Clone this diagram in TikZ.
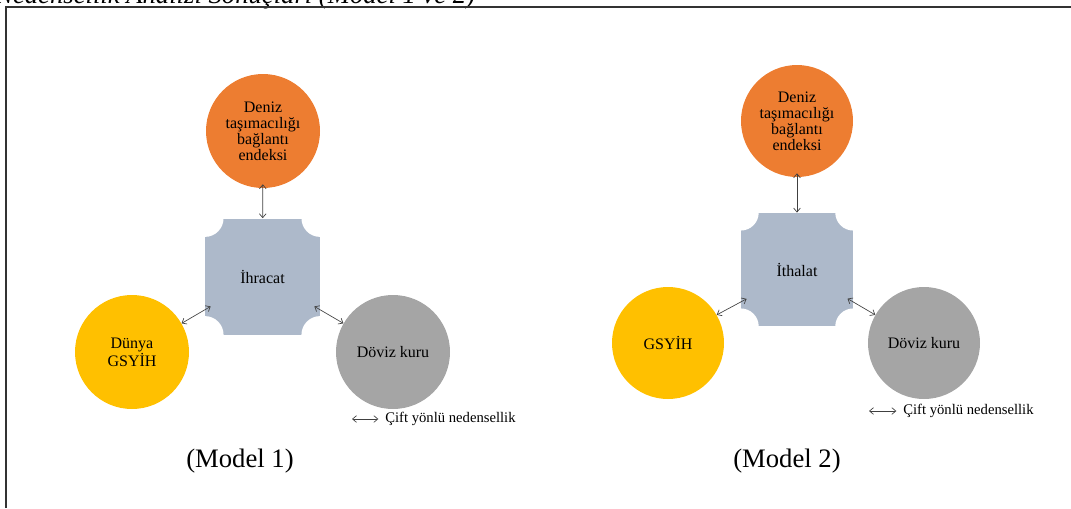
\documentclass[tikz,border=0pt]{standalone}
\usepackage{fontspec}
\setmainfont{Liberation Serif}
\usepackage{xcolor}
\usetikzlibrary{positioning, arrows.meta}
\definecolor{sea-orange}{HTML}{ED7D31}
\definecolor{gdp-yellow}{HTML}{FFC000}
\definecolor{fx-gray}{HTML}{A5A5A5}
\definecolor{box-blue}{HTML}{ADB9CA}
\tikzset{
    factor-circle/.style = {circle, minimum size=85.5pt, inner sep=0pt, align=center, font=\fontsize{12}{12}\selectfont},
    trade-box/.style = {rectangle, fill=box-blue, minimum width=86pt, minimum height=87pt, inner sep=0pt, font=\fontsize{12}{12}\selectfont},
    both-way/.style = {{Straight Barb[length=3pt,width=5pt]}-{Straight Barb[length=3pt,width=5pt]}, draw=black!75, line width=0.5pt},
    legend-text/.style = {anchor=west, inner sep=0pt, font=\fontsize{11}{11}\selectfont},
    model-label/.style = {inner sep=0pt, font=\fontsize{20}{24}\selectfont},
}

\begin{document}
\begin{tikzpicture}[x=0.75pt, y=-0.75pt]
\clip (0,0) rectangle (1071,508);
\node[anchor=base west, inner sep=0pt, font=\fontsize{20}{24}\selectfont\itshape] (title) at (-5,3) {Nedensellik Analizi Sonuçları (Model 1 ve 2)};
\draw[line width=1.1pt, black!80] (6,508) -- (6,7) -- (1071,7);

% Model 1
\node[trade-box] (sq1) at (262.5,276.5) {};
\foreach \c in {north west, north east, south west, south east}
    \fill[white] (sq1.\c) circle[radius=14pt];
\node[font=\fontsize{12}{12}\selectfont] at (sq1.center) {İhracat};
\node[factor-circle, fill=sea-orange] (top1) at (263,131) {Deniz\\taşımacılığı\\bağlantı\\endeksi};
\node[factor-circle, fill=gdp-yellow] (left1) at (132,352) {Dünya\\GSYİH};
\node[factor-circle, fill=fx-gray] (right1) at (393,352) {Döviz kuru};
\draw[both-way, shorten <=-3pt] (top1) -- (sq1);
\draw[both-way, shorten >=-5pt] (left1.30) -- (sq1.210);
\draw[both-way, shorten <=-5pt] (sq1.330) -- (right1.150);
\coordinate (l1a) at (352,419);
\node[legend-text] (leg1) at (385,419) {Çift yönlü nedensellik};
\draw[both-way] (l1a) -- ([xshift=-5pt]leg1.west);
\node[model-label] (m1) at (240,461) {(Model 1)};

% Model 2
\node[trade-box, minimum width=84pt, minimum height=85pt] (sq2) at (797,269.5) {};
\foreach \c in {north west, north east, south west, south east}
    \fill[white] (sq2.\c) circle[radius=13.5pt];
\node[font=\fontsize{12}{12}\selectfont] at (sq2.center) {İthalat};
\node[factor-circle, minimum size=84pt, fill=sea-orange] (top2) at (797,121) {Deniz\\taşımacılığı\\bağlantı\\endeksi};
\node[factor-circle, minimum size=84pt, fill=gdp-yellow] (left2) at (668,343) {GSYİH};
\node[factor-circle, minimum size=84pt, fill=fx-gray] (right2) at (924,343) {Döviz kuru};
\draw[both-way, shorten <=-3pt] (top2) -- (sq2);
\draw[both-way, shorten >=-5pt] (left2.30) -- (sq2.210);
\draw[both-way, shorten <=-5pt] (sq2.330) -- (right2.150);
\coordinate (l2a) at (869,411);
\node[legend-text] (leg2) at (903,411) {Çift yönlü nedensellik};
\draw[both-way] (l2a) -- ([xshift=-5pt]leg2.west);
\node[model-label] (m2) at (787,461) {(Model 2)};
\end{tikzpicture}
\end{document}
